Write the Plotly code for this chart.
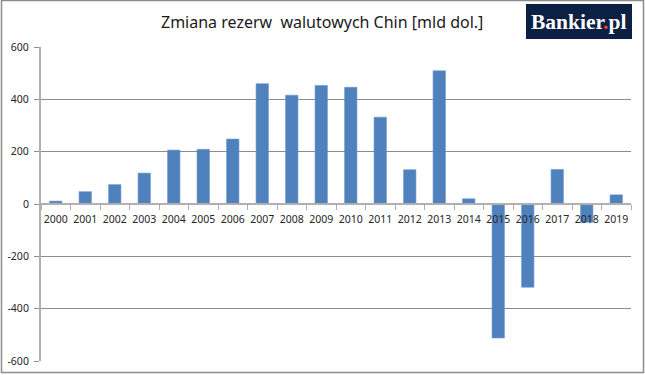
import plotly.graph_objects as go

years = [str(y) for y in range(2000, 2020)]
values = [11, 47, 74, 118, 206, 209, 248, 460, 416, 453, 446, 332, 131, 509, 20, -512, -318, 132, -70, 35]
y_ticks = [-600, -400, -200, 0, 200, 400, 600]
y_tick_labels = ["-600", "-400", "-200", "0", "200", "400", "600"]
title_text = "Zmiana rezerw  walutowych Chin [mld dol.]"

W, H = 645, 375
L, R, T, B = 41, 14, 47, 14
pw, ph = W - L - R, H - T - B

def px2x(px):
    return (px - L) / pw

def py2y(py):
    return (H - B - py) / ph

fig = go.Figure(go.Bar(
    x=years, y=values,
    marker=dict(color="#4f81bd", line=dict(color="#6f97cc", width=0.6)),
    width=0.42,
))

grid = "#8c8c8c"
fig.update_layout(
    width=W, height=H,
    margin=dict(l=L, r=R, t=T, b=B, autoexpand=False),
    paper_bgcolor="white", plot_bgcolor="white",
    showlegend=False,
    font=dict(family="Noto Sans", color="#262626"),
    xaxis=dict(
        type="category", automargin=False,
        anchor="free", position=0.5,
        showline=True, linecolor="#b0b0b0", linewidth=2,
        ticks="outside", tickson="boundaries", ticklen=5, tickcolor="#b0b0b0", tickwidth=1,
        showgrid=False, zeroline=False, tickangle=0, ticklabelstandoff=5,
        tickfont=dict(size=10.5, family="Noto Sans", color="#262626"),
        range=[-0.5, 19.5],
    ),
    yaxis=dict(
        range=[-600, 600], tickvals=y_ticks, ticktext=y_tick_labels, automargin=False,
        showgrid=True, gridcolor=grid, gridwidth=1,
        showline=True, linecolor="#b0b0b0", linewidth=2,
        ticks="outside", ticklen=5, tickcolor=grid,
        zeroline=False, ticklabelstandoff=3,
        tickfont=dict(size=10.5, family="Noto Sans", color="#262626"),
    ),
    shapes=[
        dict(type="rect", xref="paper", yref="paper",
             x0=px2x(1.5), x1=px2x(643.5), y0=py2y(372.5), y1=py2y(0.5),
             line=dict(color="#8c8c8c", width=1.5), fillcolor="rgba(0,0,0,0)", layer="above"),
        dict(type="rect", xref="paper", yref="paper",
             x0=px2x(526), x1=px2x(632), y0=py2y(39), y1=py2y(4),
             line=dict(width=0), fillcolor="#0c2044", layer="above"),
    ],
    annotations=[
        dict(text=title_text, xref="paper", yref="paper",
             x=px2x(322), y=py2y(22), xanchor="center", yanchor="middle",
             showarrow=False, font=dict(size=16, family="Noto Sans", color="#1a1a1a")),
        dict(text='Bankier<span style="color:#e8442a">.</span>pl', xref="paper", yref="paper",
             x=px2x(578.5), y=py2y(21.5), xanchor="center", yanchor="middle",
             showarrow=False, font=dict(size=21.5, family="Liberation Serif", color="white", weight="bold")),
    ],
)

fig.write_html("out.html", config={"displayModeBar": False},
               post_script="document.body.style.margin='0';document.body.style.overflow='hidden';")
